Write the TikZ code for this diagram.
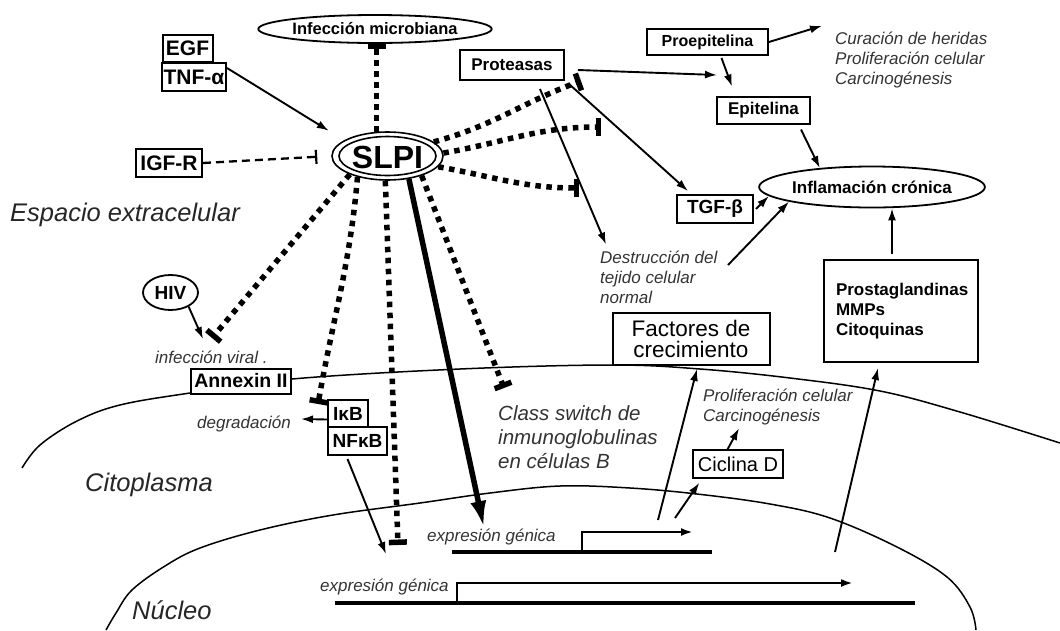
\documentclass[tikz,border=0pt]{standalone}
\usepackage{fontspec}
\setmainfont{Liberation Sans}
\usetikzlibrary{arrows.meta,shapes.geometric}
\begin{document}
\begin{tikzpicture}[x=1pt,y=-1pt,
  box/.style={draw, line width=2pt, fill=white, inner sep=0pt},
  ell/.style={ellipse, draw, line width=1.8pt, fill=white, inner sep=0pt},
  bfs/.style={font=\bfseries\fontsize{#1}{#1}\selectfont},
  lab/.style={inner sep=0pt, text=black!80, align=left, font=\itshape\fontsize{17}{20}\selectfont},
  region/.style={inner sep=0pt, text=black!85, font=\itshape\fontsize{25.5}{28}\selectfont},
  arr/.style={line width=1.9pt, -{Latex[length=12pt,width=8pt]}},
  inh/.style={line width=5.5pt, dash pattern=on 5.5pt off 5.5pt, -{Bar[width=18pt,line width=5.5pt]}},
  gene/.style={line width=3.6pt},
  prom/.style={line width=2.7pt, -{Latex[length=12pt,width=8pt]}},
  mem/.style={line width=1.5pt}]
\useasboundingbox (0,0) rectangle (1060,630);

% membranes
\draw[mem] plot[smooth, tension=0.6] coordinates {(22,468) (40,445) (77,421) (120,405) (190,393) (292,379) (460,369) (612,365) (700,369) (790,378) (880,391) (960,412) (1060,443)};
\draw[mem] plot[smooth, tension=0.6] coordinates {(106,630) (116,613) (132,590) (165,566) (200,548) (260,530) (333,515) (420,503) (490,493) (560,486) (630,488) (697,494) (770,504) (830,518) (897,547) (947,577) (970,607) (976,630)};

% region labels
\node[region, anchor=west] (esp) at (10,215) {Espacio extracelular};
\node[region, anchor=west] (cito) at (85,485) {Citoplasma};
\node[region, anchor=west] (nucl) at (132,610) {Núcleo};

% SLPI
\node[ellipse, draw, line width=1.6pt, fill=white, inner sep=0pt, minimum width=111pt, minimum height=48pt] (slpi) at (387.5,156) {};
\draw[line width=1.6pt] (slpi.center) ellipse [x radius=48.5pt, y radius=19.5pt];
\node[bfs=32, inner sep=0pt] (slpitxt) at (387.5,157) {SLPI};

% nodes
\node[ell, bfs=16.5, minimum width=205pt, minimum height=28pt] (inf) at (375,29) {Infección microbiana};
\node[box, bfs=21, minimum width=50pt, minimum height=27pt] (egf) at (187.5,48.5) {EGF};
\node[box, bfs=21, minimum width=64pt, minimum height=28pt] (tnf) at (194,77) {TNF-α};
\node[box, bfs=21, minimum width=66pt, minimum height=28pt] (igf) at (169,163) {IGF-R};
\node[box, bfs=17, minimum width=104pt, minimum height=30pt] (prot) at (512,65) {Proteasas};
\node[box, bfs=16, minimum width=121pt, minimum height=26pt] (proep) at (707.5,42) {Proepitelina};
\node[box, bfs=17, minimum width=93pt, minimum height=27pt] (epit) at (763.5,110) {Epitelina};
\node[ell, bfs=17, minimum width=219pt, minimum height=41pt] (infl) at (872,187) {Inflamación crónica};
\node[box, bfs=19, minimum width=76pt, minimum height=28pt] (tgf) at (715,209) {TGF-β};
\node[box, bfs=17, minimum width=154pt, minimum height=102pt, text width=130pt, align=left] (prost) at (901,311) {Prostaglandinas\\[3pt]MMPs\\[3pt]Citoquinas};
\node[box, font=\fontsize{22.5}{21}\selectfont, align=center, minimum width=157pt, minimum height=52pt] (fact) at (691,339) {Factores de\\crecimiento};
\node[box, line width=1.4pt, font=\fontsize{20}{20}\selectfont, minimum width=90pt, minimum height=28pt] (cic) at (738,464) {Ciclina D};
\node[ell, bfs=19, minimum width=55pt, minimum height=35pt] (hiv) at (170.5,292.5) {HIV};
\node[box, bfs=19.5, minimum width=100pt, minimum height=25pt] (annex) at (241,381) {Annexin II};
\node[box, bfs=19, minimum width=40pt, minimum height=27pt] (ikb) at (348,413.5) {IκB};
\node[box, bfs=19, minimum width=59pt, minimum height=28pt] (nfkb) at (357.5,441) {NFκB};

% italic labels
\node[lab, anchor=west] (cura) at (835,60) {Curación de heridas\\Proliferación celular\\Carcinogénesis};
\node[lab, anchor=west] (destr) at (600,277) {Destrucción del\\tejido celular\\normal};
\node[lab, anchor=west, font=\itshape\fontsize{20.5}{24}\selectfont] (class) at (498,437) {Class switch de\\inmunoglobulinas\\en células B};
\node[lab, anchor=west] (prolif) at (703,407) {Proliferación celular\\Carcinogénesis};
\node[lab, anchor=west] (infv) at (155,357) {infección viral .};
\node[lab, anchor=west] (degr) at (197,424) {degradación};
\node[lab, anchor=west] (expr1) at (427,537) {expresión génica};
\node[lab, anchor=west] (expr2) at (320,587) {expresión génica};

% free ends
\coordinate (i1) at (581,81);
\coordinate (i2) at (601,127);
\coordinate (i3) at (579,188);
\coordinate (i4) at (212,338);
\coordinate (i5) at (318,404);
\coordinate (i6) at (398,545);
\coordinate (i7) at (504,388);
\coordinate (t1) at (484,528);
\coordinate (conv) at (717,75);
\coordinate (d1) at (728,265);
\coordinate (h1) at (203,339);
\coordinate (n1) at (386,554);
\coordinate (g1s) at (452,552);
\coordinate (g1e) at (712,552);
\coordinate (g1p) at (582,552);
\coordinate (g1a) at (693,532);
\coordinate (g2s) at (335,603);
\coordinate (g2e) at (915,603);
\coordinate (g2p) at (457,603);
\coordinate (g2a) at (853,583);
\coordinate (ga) at (658,520);
\coordinate (gb) at (675,518);
\coordinate (gc) at (835,552);

% genes
\draw[gene] (g1s) -- (g1e);
\draw[prom] (g1p) |- (g1a);
\draw[gene] (g2s) -- (g2e);
\draw[prom] (g2p) |- (g2a);

% activation arrows
\draw[arr, shorten >=18pt] ([yshift=9pt]tnf.east) -- (slpi.160);
\draw[line width=2.3pt, dash pattern=on 8pt off 5pt, -{Bar[width=14pt,line width=2.2pt]}, shorten >=14pt] (igf.east) -- (slpi.west);
\draw[arr] ([xshift=13pt,yshift=-5pt]prot.east) -- (conv);
\draw[arr] ([xshift=4pt,yshift=-3pt]prot.south east) -- ([xshift=12pt,yshift=3pt]tgf.north west);
\draw[arr] ([xshift=28pt,yshift=-8pt]prot.south) -- ([xshift=6pt,yshift=6pt]destr.north west);
\draw[arr] (proep.east) -- ([xshift=-13pt,yshift=6pt]cura.north west);
\draw[arr] ([xshift=14pt,yshift=-2pt]proep.south) -- ([xshift=16pt,yshift=9pt]epit.north west);
\draw[arr] ([xshift=-10pt,yshift=-5pt]epit.south east) -- (infl.160);
\draw[arr] ([xshift=2pt]tgf.east) -- (infl.185);
\draw[arr] (d1) -- (infl.190);
\draw[arr, shorten <=5pt] ([xshift=-9pt]prost.north) -- ([xshift=-9pt]prost.north |- infl.south);
\draw[arr] (hiv.-38) -- (h1);
\draw[arr] ([yshift=-6pt]ikb.west) -- ([xshift=10pt,yshift=5pt]degr.east);
\draw[arr] ([xshift=-10pt,yshift=-3pt]nfkb.south) -- (n1);
\draw[line width=5.5pt, -{Latex[length=27pt,width=16pt]}] (slpi.-47) -- (t1);
\draw[arr] (ga) -- ([xshift=6pt,yshift=-3pt]fact.south);
\draw[arr] (gb) -- ([xshift=7pt,yshift=-4pt]cic.south west);
\draw[arr] ([xshift=-11pt,yshift=-1pt]cic.north) -- ([xshift=36pt,yshift=-3pt]prolif.south west);
\draw[arr] (gc) -- ([xshift=-23pt,yshift=-5pt]prost.south);

% inhibition lines
\draw[inh] (slpi.114) -- (slpi.114 |- inf.south);
\draw[inh] (slpi.17) to[out=15, in=200] (i1);
\draw[inh] (slpi.3) to[out=10, in=180] (i2);
\draw[inh] (slpi.-12) to[out=-10, in=180] (i3);
\draw[inh] (slpi.206) -- (i4);
\draw[inh] (slpi.215) to[out=-95, in=80] (i5);
\draw[inh] (slpi.265) -- (i6);
\draw[inh] (slpi.-30) -- (i7);
\end{tikzpicture}
\end{document}
